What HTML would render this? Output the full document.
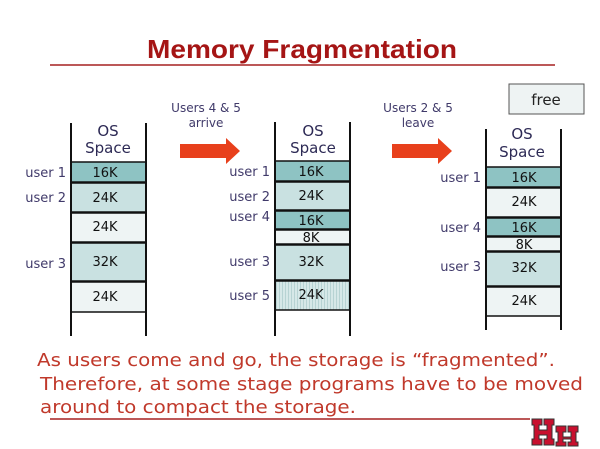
<!DOCTYPE html>
<html><head><style>html,body{margin:0;padding:0;background:#fff}svg{display:block}</style></head><body>
<svg width="600" height="449" viewBox="0 0 600 449" xmlns="http://www.w3.org/2000/svg" font-family="DejaVu Sans, Liberation Sans, sans-serif">
<rect width="600" height="449" fill="#fff"/>
<text x="302" y="58" text-anchor="middle" font-size="26" font-weight="bold" fill="#a51515" font-family="Liberation Sans, sans-serif" textLength="310" lengthAdjust="spacingAndGlyphs">Memory Fragmentation</text>
<line x1="50" y1="65" x2="555" y2="65" stroke="#a52020" stroke-width="1.5"/>

<g font-size="12" fill="#403a6a" text-anchor="middle">
<text x="206" y="112">Users 4 &amp; 5</text><text x="206" y="127">arrive</text>
<text x="418" y="112">Users 2 &amp; 5</text><text x="418" y="127">leave</text>
</g>
<polygon points="180,144 226,144 226,138 240,151 226,164 226,158 180,158" fill="#e8401c"/>
<polygon points="392,144 438,144 438,138 452,151 438,164 438,158 392,158" fill="#e8401c"/>

<rect x="509" y="84" width="75" height="30" fill="#eef3f3" stroke="#555" stroke-width="1"/>
<text x="546" y="105" text-anchor="middle" font-size="15" fill="#222">free</text>

<defs><pattern id="st" width="3" height="3" patternUnits="userSpaceOnUse"><rect width="3" height="3" fill="#d6e8e8"/><rect width="1" height="3" fill="#b7d3d3"/></pattern></defs>

<g stroke="#111" stroke-width="1.5">
<rect x="71" y="162" width="75" height="20" fill="#8ec3c3"/>
<rect x="71" y="183" width="75" height="29" fill="#c9e1e1"/>
<rect x="71" y="213" width="75" height="29" fill="#eef4f4"/>
<rect x="71" y="243" width="75" height="38" fill="#c9e1e1"/>
<rect x="71" y="282" width="75" height="30" fill="#eef4f4"/>
<line x1="71" y1="123" x2="71" y2="336" stroke-width="2"/><line x1="146" y1="123" x2="146" y2="336" stroke-width="2"/>
</g>
<g stroke="#111" stroke-width="1.5">
<rect x="275" y="161" width="75" height="20" fill="#8ec3c3"/>
<rect x="275" y="182" width="75" height="28" fill="#c9e1e1"/>
<rect x="275" y="211" width="75" height="18" fill="#8ec3c3"/>
<rect x="275" y="230" width="75" height="14" fill="#eef4f4"/>
<rect x="275" y="245" width="75" height="35" fill="#c9e1e1"/>
<rect x="275" y="281" width="75" height="29" fill="url(#st)"/>
<line x1="275" y1="122" x2="275" y2="336" stroke-width="2"/><line x1="350" y1="122" x2="350" y2="336" stroke-width="2"/>
</g>
<g stroke="#111" stroke-width="1.5">
<rect x="486" y="167" width="75" height="20" fill="#8ec3c3"/>
<rect x="486" y="188" width="75" height="29" fill="#eef4f4"/>
<rect x="486" y="218" width="75" height="18" fill="#8ec3c3"/>
<rect x="486" y="237" width="75" height="14" fill="#eef4f4"/>
<rect x="486" y="252" width="75" height="34" fill="#c9e1e1"/>
<rect x="486" y="287" width="75" height="29" fill="#eef4f4"/>
<line x1="486" y1="129" x2="486" y2="330" stroke-width="2"/><line x1="561" y1="129" x2="561" y2="330" stroke-width="2"/>
</g>

<g font-size="15" fill="#2d2a55" text-anchor="middle">
<text x="108" y="136">OS</text><text x="108" y="153">Space</text>
<text x="313" y="136">OS</text><text x="313" y="153">Space</text>
<text x="522" y="139">OS</text><text x="522" y="157">Space</text>
</g>
<g font-size="13" fill="#111" text-anchor="middle">
<text x="105" y="177">16K</text><text x="105" y="202">24K</text><text x="105" y="231">24K</text><text x="105" y="266">32K</text><text x="105" y="301">24K</text>
<text x="311" y="176">16K</text><text x="311" y="200">24K</text><text x="311" y="225">16K</text><text x="311" y="242">8K</text><text x="311" y="266">32K</text><text x="311" y="299">24K</text>
<text x="524" y="182">16K</text><text x="524" y="206">24K</text><text x="524" y="232">16K</text><text x="524" y="249">8K</text><text x="524" y="272">32K</text><text x="524" y="305">24K</text>
</g>
<g font-size="13" fill="#403a6a" text-anchor="end">
<text x="66" y="177">user 1</text><text x="66" y="202">user 2</text><text x="66" y="268">user 3</text>
<text x="270" y="176">user 1</text><text x="270" y="201">user 2</text><text x="270" y="221">user 4</text><text x="270" y="266">user 3</text><text x="270" y="300">user 5</text>
<text x="481" y="182">user 1</text><text x="481" y="232">user 4</text><text x="481" y="271">user 3</text>
</g>

<g font-size="18" fill="#c0392b">
<text x="37" y="366" textLength="518" lengthAdjust="spacingAndGlyphs">As users come and go, the storage is “fragmented”.</text>
<text x="40" y="390" textLength="543" lengthAdjust="spacingAndGlyphs">Therefore, at some stage programs have to be moved</text>
<text x="40" y="413" textLength="316" lengthAdjust="spacingAndGlyphs">around to compact the storage.</text>
</g>
<line x1="50" y1="419" x2="530" y2="419" stroke="#a52020" stroke-width="1.5"/>
<g fill="#c8102e" stroke="#333" stroke-width="1">
<path d="M532 419 h10 v6 h-3 v5 h8 v-5 h-3 v-6 h10 v6 h-2 v14 h2 v6 h-10 v-6 h3 v-4 h-8 v4 h3 v6 h-10 v-6 h2 v-14 h-2z"/>
<path d="M556 426 h10 v6 h-3 v5 h8 v-5 h-3 v-6 h10 v6 h-2 v10 h2 v4 h-10 v-4 h3 v-3 h-8 v3 h3 v4 h-10 v-4 h2 v-10 h-2z"/>
</g>
</svg>
</body></html>
